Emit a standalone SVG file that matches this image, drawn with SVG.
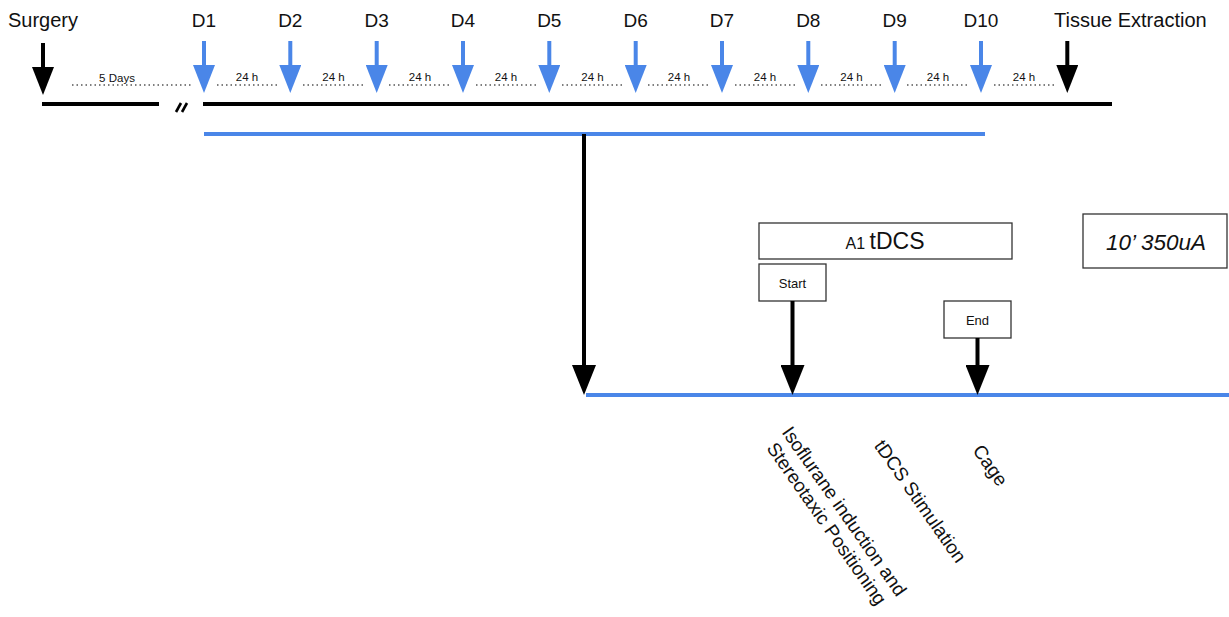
<svg xmlns="http://www.w3.org/2000/svg" width="1229" height="617" viewBox="0 0 1229 617">
<style>
.lbl{font-family:"Liberation Sans",Arial,sans-serif;fill:#111;}
.top{font-size:20px;}
.small{font-size:11.5px;text-anchor:middle;}
.day{font-size:19px;text-anchor:middle;}
.box{fill:#fff;stroke:#333;stroke-width:1.3;}
.dots{stroke:#555;stroke-width:1.5;stroke-dasharray:1.5 3;fill:none;}
.blue{stroke:#4a86e8;stroke-width:4;fill:none;}
.blk{stroke:#000;stroke-width:4;fill:none;}
.rot{font-size:19px;text-anchor:middle;}
</style>
<defs>
<marker id="hb" markerUnits="userSpaceOnUse" viewBox="0 0 28 22" refX="0" refY="11" markerWidth="28" markerHeight="22" orient="auto">
<path d="M0,0 L28,11 L0,22 z" fill="#4a86e8"/>
</marker>
<marker id="hk" markerUnits="userSpaceOnUse" viewBox="0 0 28 22" refX="0" refY="11" markerWidth="28" markerHeight="22" orient="auto">
<path d="M0,0 L28,11 L0,22 z" fill="#000"/>
</marker>
<marker id="hk2" markerUnits="userSpaceOnUse" viewBox="0 0 30 24" refX="0" refY="12" markerWidth="30" markerHeight="24" orient="auto">
<path d="M0,0 L30,12 L0,24 z" fill="#000"/>
</marker>
</defs>
<rect width="1229" height="617" fill="#fff"/>

<g id="timeline">
<line class="blk" x1="42" y1="104" x2="159" y2="104"/>
<line class="blk" x1="203" y1="104" x2="1112" y2="104"/>
<line stroke="#000" stroke-width="2.6" x1="176" y1="112" x2="181" y2="103"/>
<line stroke="#000" stroke-width="2.6" x1="182" y1="112" x2="187" y2="103"/>
<line class="blue" stroke-width="3.5" x1="204" y1="134" x2="985" y2="134"/>
<line class="blue" stroke-width="3.5" x1="586" y1="395" x2="1229" y2="395"/>
</g>

<g id="intervals">
<line class="dots" x1="72" y1="85" x2="191" y2="85"/>
<text class="lbl small" x="117" y="82">5 Days</text>
<line class="dots" x1="217" y1="85" x2="278" y2="85"/>
<line class="dots" x1="303" y1="85" x2="364" y2="85"/>
<line class="dots" x1="389" y1="85" x2="450" y2="85"/>
<line class="dots" x1="476" y1="85" x2="537" y2="85"/>
<line class="dots" x1="562" y1="85" x2="623" y2="85"/>
<line class="dots" x1="648" y1="85" x2="709" y2="85"/>
<line class="dots" x1="735" y1="85" x2="796" y2="85"/>
<line class="dots" x1="821" y1="85" x2="882" y2="85"/>
<line class="dots" x1="907" y1="85" x2="968" y2="85"/>
<line class="dots" x1="994" y1="85" x2="1055" y2="85"/>
<text class="lbl small" x="247" y="81">24 h</text>
<text class="lbl small" x="333.5" y="81">24 h</text>
<text class="lbl small" x="420" y="81">24 h</text>
<text class="lbl small" x="506" y="81">24 h</text>
<text class="lbl small" x="592.5" y="81">24 h</text>
<text class="lbl small" x="679" y="81">24 h</text>
<text class="lbl small" x="765" y="81">24 h</text>
<text class="lbl small" x="851.5" y="81">24 h</text>
<text class="lbl small" x="938" y="81">24 h</text>
<text class="lbl small" x="1024" y="81">24 h</text>
</g>

<g id="surgery"><text class="lbl top" x="8" y="27">Surgery</text></g>
<g id="tissue-extraction"><text class="lbl top" x="1054" y="27">Tissue Extraction</text></g>
<g id="days">
<text class="lbl day" x="204" y="27">D1</text>
<text class="lbl day" x="290.3" y="27">D2</text>
<text class="lbl day" x="376.7" y="27">D3</text>
<text class="lbl day" x="463" y="27">D4</text>
<text class="lbl day" x="549.3" y="27">D5</text>
<text class="lbl day" x="635.7" y="27">D6</text>
<text class="lbl day" x="722" y="27">D7</text>
<text class="lbl day" x="808.3" y="27">D8</text>
<text class="lbl day" x="894.7" y="27">D9</text>
<text class="lbl day" x="981" y="27">D10</text>
</g>

<g id="tdcs-box">
<rect class="box" x="759" y="223" width="253" height="36"/>
<text class="lbl" x="885" y="249" text-anchor="middle"><tspan style="font-size:16px">A1 </tspan><tspan style="font-size:23px">tDCS</tspan></text>
</g>
<g id="start-box">
<rect class="box" x="759" y="264" width="67" height="37"/>
<text class="lbl" x="792.5" y="288" text-anchor="middle" style="font-size:13px">Start</text>
</g>
<g id="end-box">
<rect class="box" x="944" y="301" width="67" height="37"/>
<text class="lbl" x="977.5" y="325" text-anchor="middle" style="font-size:13px">End</text>
</g>
<g id="dose-box">
<rect class="box" x="1083" y="214" width="144" height="54"/>
<text class="lbl" x="1156" y="250" text-anchor="middle" style="font-size:22.5px;font-style:italic">10’ 350uA</text>
</g>

<g id="phase-labels">
<g transform="translate(839,515) rotate(55)">
<text class="lbl rot" x="0" y="0">Isoflurane induction and</text>
<text class="lbl rot" x="0" y="21.5">Stereotaxic Positioning</text>
</g>
<g transform="translate(915,505) rotate(55)"><text class="lbl rot" x="0" y="0">tDCS Stimulation</text></g>
<g transform="translate(985,469) rotate(55)"><text class="lbl rot" x="0" y="0">Cage</text></g>
</g>

<g id="connectors">
<line class="blk" x1="43" y1="43" x2="43" y2="67" marker-end="url(#hk)"/>
<line class="blk" x1="1067.3" y1="41" x2="1067.3" y2="65" marker-end="url(#hk)"/>
<line class="blue" x1="204" y1="41" x2="204" y2="65" marker-end="url(#hb)"/>
<line class="blue" x1="290.3" y1="41" x2="290.3" y2="65" marker-end="url(#hb)"/>
<line class="blue" x1="376.7" y1="41" x2="376.7" y2="65" marker-end="url(#hb)"/>
<line class="blue" x1="463" y1="41" x2="463" y2="65" marker-end="url(#hb)"/>
<line class="blue" x1="549.3" y1="41" x2="549.3" y2="65" marker-end="url(#hb)"/>
<line class="blue" x1="635.7" y1="41" x2="635.7" y2="65" marker-end="url(#hb)"/>
<line class="blue" x1="722" y1="41" x2="722" y2="65" marker-end="url(#hb)"/>
<line class="blue" x1="808.3" y1="41" x2="808.3" y2="65" marker-end="url(#hb)"/>
<line class="blue" x1="894.7" y1="41" x2="894.7" y2="65" marker-end="url(#hb)"/>
<line class="blue" x1="981" y1="41" x2="981" y2="65" marker-end="url(#hb)"/>
<line class="blk" x1="584" y1="134" x2="584" y2="365" marker-end="url(#hk2)"/>
<line class="blk" stroke-width="5" x1="792.5" y1="301" x2="792.5" y2="365" marker-end="url(#hk2)"/>
<line class="blk" stroke-width="5" x1="977.5" y1="338" x2="977.5" y2="365" marker-end="url(#hk2)"/>
</g>
</svg>
